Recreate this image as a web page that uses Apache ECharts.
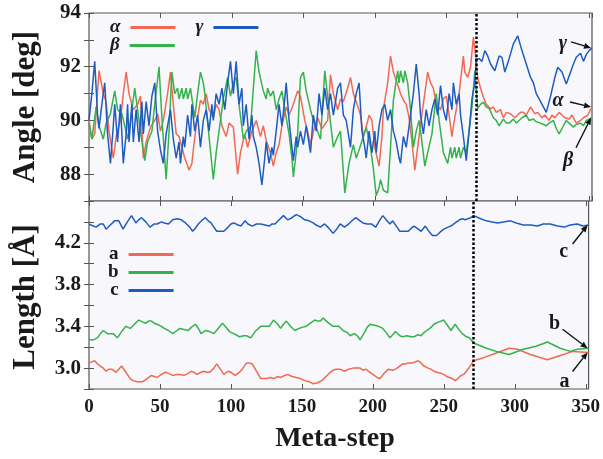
<!DOCTYPE html>
<html><head><meta charset="utf-8">
<script src="https://cdn.jsdelivr.net/npm/echarts@6/dist/echarts.min.js"></script>
<style>html,body{margin:0;padding:0;background:#fff}#c{width:603px;height:459px}</style>
</head><body><div id="c"></div>
<script>
// ---------- data ----------
const xMax = 352;
const switchStep = 271;
const xTicks = [0, 50, 100, 150, 200, 250, 300, 350];
const angleTicks = [88, 90, 92, 94];
const lengthTicks = [3.0, 3.4, 3.8, 4.2];

const alphaX = [0,2,4,7,10,12,14,17,19,22,24,26,28,31,34,36,38,40,43,46,48,50,52,55,57,59,61,63,65,67,70,72,73,75,78,80,82,84,87,89,91,93,96,98,101,104,106,109,111,114,117,120,122,124,127,129,131,133,135,138,140,143,146,148,151,153,155,158,160,163,167,169,171,174,176,178,181,183,185,187,190,192,194,196,198,200,203,205,206,209,211,213,215,218,220,222,224,226,228,230,233,235,237,239,241,243,246,248,250,252,254,255,257,259,262,263,265,267,269,271,272,274,276,278,281,283,285,288,290,292,295,298,300,302,304,306,309,312,314,317,319,322,324,326,329,331,333,336,338,341,344,346,349,352];
const alphaY = [90.0,89.3,89.5,91.85,91.0,90.7,89.6,88.6,89.4,90.0,91.0,91.8,91.0,90.4,90.6,90.9,88.6,89.2,89.75,90.0,90.25,89.6,90.0,91.0,91.8,90.6,89.5,89.4,89.0,88.6,88.15,88.4,88.9,89.8,90.75,90.6,91.0,90.4,90.1,90.6,90.4,89.8,89.4,89.9,89.75,88.0,88.8,89.5,89.0,89.6,90.0,89.4,89.8,89.25,88.8,88.3,88.8,89.1,89.8,90.5,90.2,90.6,91.1,90.9,90.0,89.6,89.1,89.8,90.1,89.7,90.0,91.7,91.0,90.4,90.8,90.7,91.2,91.6,91.0,90.7,90.2,89.4,89.75,90.2,90.0,89.0,88.3,89.4,90.4,91.4,92.4,91.8,91.5,91.0,90.75,90.6,90.1,89.2,88.15,89.0,90.25,91.0,91.8,91.4,91.2,90.6,90.4,90.8,90.9,90.2,89.4,89.8,90.4,91.0,92.4,91.8,91.6,92.0,93.1,92.2,91.6,91.2,90.86,90.6,90.43,90.5,90.3,90.4,90.1,90.3,90.25,90.1,90.2,90.3,90.3,90.2,90.5,90.25,90.3,90.1,90.2,90.0,90.2,90.1,90.3,90.2,90.1,90.05,90.2,89.9,90.0,90.1,90.2,90.5];

const betaX = [0,2,5,7,10,12,15,18,20,23,25,27,29,32,34,36,39,41,44,46,49,51,54,56,58,60,62,63,65,66,68,69,71,74,76,78,80,81,84,87,89,92,94,97,99,101,103,105,108,110,113,115,117,119,122,124,125,127,129,131,133,135,137,140,142,143,145,146,148,150,152,155,157,160,162,165,168,171,174,176,179,182,185,187,189,192,194,197,199,201,203,204,206,209,211,213,216,217,218,220,221,223,225,227,229,231,233,235,237,240,243,245,248,251,253,254,256,257,259,260,262,264,266,268,270,272,274,276,278,280,283,285,287,290,292,294,297,299,301,303,306,308,311,313,316,318,320,322,325,327,329,331,334,336,339,341,344,346,348,350,352];
const betaY = [89.9,89.3,90.5,89.8,89.3,89.9,90.25,91.1,90.4,90.25,89.8,89.3,90.0,91.2,90.4,89.6,88.5,89.2,89.6,90.6,92.0,90.1,87.8,89.6,91.8,91.0,91.2,90.8,91.2,90.8,91.2,90.8,91.2,90.1,91.0,91.8,91.4,91.0,89.4,87.8,88.8,90.0,90.8,91.6,90.9,91.4,91.6,90.6,89.3,89.6,89.75,91.2,92.6,91.8,91.1,90.8,91.2,90.9,91.1,90.4,90.8,91.1,90.4,89.5,88.6,87.9,88.8,89.5,91.6,91.8,91.1,90.4,90.0,89.6,89.3,91.85,90.4,89.0,89.4,89.6,87.3,88.4,89.1,88.6,88.9,89.4,89.75,89.0,88.2,87.2,87.5,87.8,87.4,87.3,89.0,90.75,91.85,91.4,91.85,91.4,91.85,91.4,90.4,89.0,89.6,90.0,89.2,88.3,88.8,89.5,91.0,90.0,88.8,88.4,89.0,88.6,89.0,88.6,89.0,88.6,89.0,88.8,89.6,90.5,91.85,90.45,90.6,90.68,90.5,90.45,90.1,90.0,89.8,90.05,89.9,89.9,90.05,89.9,90.0,90.1,90.2,90.0,90.05,89.95,89.9,89.85,89.8,89.9,90.0,89.7,89.5,89.7,90.0,89.9,89.75,89.85,89.9,89.8,90.0,90.05,90.1];

const gammaX = [0,2,4,6,7,9,11,13,15,17,18,20,22,24,26,27,28,30,31,33,35,37,38,40,42,44,46,48,50,52,54,57,59,61,63,64,66,67,69,71,72,74,76,78,80,82,84,86,87,89,91,93,95,97,99,101,103,105,107,108,110,112,114,115,117,119,121,123,124,126,128,129,131,133,135,137,138,140,142,143,145,146,148,150,152,155,157,159,161,163,165,167,169,171,174,176,178,180,183,185,187,189,191,193,194,196,198,200,201,203,205,207,209,211,213,215,217,218,220,222,225,227,229,231,232,234,236,238,240,242,244,246,248,250,252,254,255,257,259,260,262,264,266,268,270,271,273,275,277,279,281,284,287,289,291,294,297,300,303,306,309,311,313,316,320,323,326,328,331,334,337,339,341,344,346,348,350,352];
const gammaY = [90.0,91.0,92.2,90.2,89.7,90.6,91.4,89.5,88.4,89.8,90.6,89.2,90.6,88.4,89.5,90.6,89.2,90.6,89.2,90.4,89.2,90.7,89.5,90.7,89.8,90.9,91.4,89.6,88.9,88.4,89.5,90.4,89.3,88.6,89.2,88.4,89.4,89.0,90.2,89.4,90.6,89.6,90.2,89.0,90.0,90.4,89.6,90.6,90.0,91.0,90.6,91.2,90.4,91.4,92.2,91.0,92.2,90.6,91.2,89.8,90.6,89.3,90.2,89.4,89.0,88.4,87.6,88.6,89.2,88.4,89.0,88.7,89.6,90.6,89.8,90.8,91.4,90.0,89.0,88.5,89.4,89.0,89.6,89.1,89.8,88.8,90.2,89.6,91.0,90.2,91.2,90.4,91.0,90.2,91.2,91.4,90.2,90.0,89.0,90.4,91.0,91.4,89.6,89.0,88.6,89.6,88.8,89.6,88.8,89.8,90.4,90.6,90.0,90.4,89.6,89.2,88.6,88.4,89.4,89.0,90.2,91.0,92.1,91.0,90.2,89.5,90.4,89.8,90.4,90.8,90.2,91.3,90.4,90.0,91.0,90.4,91.4,90.6,91.0,90.2,89.4,88.5,89.6,90.8,91.4,92.3,92.3,92.2,92.6,92.4,92.1,91.85,92.4,92.35,91.8,92.3,92.85,93.15,92.6,92.1,91.6,91.4,91.0,90.7,90.3,90.9,91.6,91.98,91.8,91.36,91.8,92.1,92.35,92.5,92.2,92.45,92.6,92.7];

const aX = [0,2,4,6,8,10,12,14,16,19,21,23,26,29,31,34,36,38,41,44,46,48,51,54,56,59,62,64,67,70,72,74,76,79,81,83,85,88,90,93,95,98,100,103,106,108,111,113,115,118,121,125,128,130,133,135,138,140,143,146,149,152,155,158,161,164,167,170,172,174,177,180,183,186,189,191,193,195,198,201,203,205,208,211,214,216,219,221,223,225,228,232,234,236,239,241,243,245,248,250,252,254,256,258,260,262,264,266,268,271,278,288,296,302,311,323,332,341,352];
const aY = [3.05,3.06,3.07,3.04,3.02,3.00,2.97,2.99,2.99,2.96,2.99,3.02,2.96,2.90,2.88,2.87,2.87,2.87,2.90,2.93,2.92,2.91,2.94,2.96,2.95,2.93,2.94,2.94,2.93,2.95,2.97,2.96,2.94,2.96,2.97,2.96,2.96,3.00,3.04,2.98,2.94,2.97,2.96,2.93,2.96,2.99,3.05,3.05,3.04,2.97,2.90,2.90,2.91,2.90,2.92,2.91,2.93,2.94,2.92,2.91,2.90,2.88,2.87,2.85,2.86,2.88,2.92,2.96,2.98,2.99,2.99,2.97,2.99,3.00,3.00,3.00,2.98,2.99,2.96,2.93,2.91,2.90,2.95,2.99,2.98,2.99,3.02,3.04,3.04,3.05,3.05,3.07,3.05,3.02,3.00,2.99,2.97,2.96,2.95,2.94,2.92,2.91,2.90,2.88,2.90,2.93,2.94,2.97,3.01,3.07,3.10,3.15,3.19,3.18,3.13,3.08,3.12,3.16,3.15];

const bX = [0,3,6,8,10,13,17,20,23,26,29,32,35,38,40,42,44,46,48,51,53,56,59,62,64,67,70,72,75,77,79,82,85,88,91,94,96,99,102,106,109,111,114,117,121,124,127,130,133,135,137,139,142,145,148,150,153,156,159,161,163,165,168,172,176,179,182,184,187,189,191,194,196,198,201,204,207,210,212,214,216,219,221,224,227,229,232,234,236,238,241,243,246,248,250,252,255,258,260,263,266,268,271,280,287,296,306,315,323,332,339,344,352];
const bY = [3.275,3.27,3.29,3.33,3.36,3.33,3.33,3.29,3.35,3.40,3.38,3.42,3.46,3.44,3.43,3.45,3.45,3.43,3.42,3.40,3.38,3.36,3.33,3.36,3.38,3.37,3.36,3.39,3.42,3.38,3.33,3.36,3.35,3.33,3.38,3.43,3.40,3.35,3.33,3.30,3.31,3.31,3.29,3.35,3.40,3.40,3.40,3.46,3.42,3.38,3.42,3.45,3.40,3.36,3.38,3.39,3.40,3.43,3.46,3.45,3.45,3.48,3.44,3.40,3.40,3.36,3.34,3.31,3.33,3.31,3.27,3.34,3.39,3.42,3.41,3.40,3.38,3.33,3.29,3.32,3.35,3.31,3.30,3.31,3.30,3.30,3.32,3.31,3.34,3.36,3.39,3.42,3.44,3.45,3.46,3.42,3.36,3.42,3.38,3.33,3.30,3.29,3.24,3.19,3.16,3.13,3.18,3.21,3.25,3.19,3.16,3.18,3.19];

const cX = [0,3,5,8,10,12,15,18,21,24,27,30,33,35,37,40,43,46,48,51,53,56,59,62,65,68,71,73,75,77,80,82,84,86,88,90,93,95,98,100,102,105,107,110,112,115,118,121,124,127,129,131,134,137,140,143,146,149,152,155,158,160,163,166,169,172,175,177,180,183,186,188,191,193,196,199,202,205,207,210,212,214,217,219,222,225,227,229,232,234,237,240,242,245,248,250,253,255,258,261,263,265,267,269,271,276,280,284,288,292,297,301,306,311,316,320,325,330,335,339,344,348,352];
const cY = [4.38,4.36,4.35,4.38,4.38,4.33,4.37,4.41,4.41,4.33,4.40,4.46,4.39,4.42,4.44,4.40,4.35,4.38,4.38,4.40,4.39,4.38,4.42,4.43,4.42,4.39,4.35,4.31,4.34,4.38,4.42,4.44,4.41,4.39,4.35,4.31,4.31,4.31,4.35,4.38,4.39,4.37,4.36,4.41,4.38,4.36,4.38,4.38,4.37,4.36,4.38,4.38,4.42,4.46,4.42,4.44,4.47,4.45,4.42,4.41,4.39,4.37,4.35,4.38,4.34,4.29,4.34,4.38,4.35,4.38,4.42,4.44,4.41,4.39,4.38,4.38,4.35,4.42,4.46,4.41,4.38,4.41,4.35,4.31,4.31,4.31,4.34,4.36,4.33,4.31,4.36,4.30,4.27,4.27,4.31,4.33,4.35,4.36,4.39,4.42,4.43,4.42,4.43,4.44,4.46,4.43,4.41,4.40,4.39,4.40,4.41,4.39,4.37,4.37,4.36,4.38,4.38,4.36,4.35,4.37,4.38,4.36,4.37];

// ---------- style ----------
const RED = '#f06a52', GREEN = '#35b24c', BLUE = '#1f5cc0';
const SERIF = '"Liberation Serif", "DejaVu Serif", serif';
const pairs = (xs, ys) => xs.map((x, i) => [x, ys[i]]);

const chart = echarts.init(document.getElementById('c'), null, {renderer: 'canvas'});

const G0 = {left: 89, right: 11, top: 13, height: 188};
const G1 = {left: 89, right: 11, top: 201, height: 188};
const gridStyle = {show: true, backgroundColor: '#f8f8fc', borderColor: '#555', borderWidth: 1.2};

function xAx(grid, pos, labels) {
  return {
    type: 'value', gridIndex: grid, position: pos, min: 0, max: xMax, interval: 50,
    axisLine: {show: false}, splitLine: {show: false},
    axisTick: {show: true, inside: true, length: 5, lineStyle: {color: '#555', width: 1}},
    axisLabel: {
      show: labels, margin: 9, fontFamily: SERIF, fontWeight: 'bold', fontSize: 19, color: '#1a1a1a',
      formatter: v => xTicks.includes(v) ? String(v) : ''
    }
  };
}
function yAx(grid, pos, min, max, interval, labelList, digits) {
  return {
    type: 'value', gridIndex: grid, position: pos, min: min, max: max, interval: interval,
    axisLine: {show: false}, splitLine: {show: false},
    axisTick: {show: true, inside: true, length: 5, lineStyle: {color: '#555', width: 1}},
    axisLabel: {
      show: pos === 'left', margin: 8, fontFamily: SERIF, fontWeight: 'bold', fontSize: 21, color: '#1a1a1a',
      formatter: v => {
        const hit = labelList.find(t => Math.abs(t - v) < 1e-6);
        return hit === undefined ? '' : hit.toFixed(digits);
      }
    }
  };
}

const dotted = {
  silent: true, symbol: ['none', 'none'], animation: false,
  label: {show: false},
  lineStyle: {color: '#000', type: [2.5, 2], width: 2.5},
  data: [{xAxis: switchStep}]
};

function lineSeries(name, color, xs, ys, xi, yi, extra) {
  return Object.assign({
    name: name, type: 'line', xAxisIndex: xi, yAxisIndex: yi,
    data: pairs(xs, ys), showSymbol: false, symbol: 'none',
    lineStyle: {color: color, width: 1.5}, itemStyle: {color: color},
    animation: false
  }, extra || {});
}

const legendText = (italic) => ({
  fontFamily: SERIF, fontWeight: 'bold', fontStyle: italic ? 'italic' : 'normal',
  fontSize: 19, color: '#1a1a1a', lineHeight: 18, padding: [0, 5, 0, 0]
});

chart.setOption({
  backgroundColor: '#fff',
  animation: false,
  grid: [Object.assign({}, G0, gridStyle), Object.assign({}, G1, gridStyle)],
  xAxis: [xAx(0, 'bottom', false), xAx(0, 'top', false), xAx(1, 'bottom', true), xAx(1, 'top', false)],
  yAxis: [
    yAx(0, 'left', 87, 94, 1, angleTicks, 0), yAx(0, 'right', 87, 94, 1, angleTicks, 0),
    yAx(1, 'left', 2.8, 4.6, 0.2, lengthTicks, 1), yAx(1, 'right', 2.8, 4.6, 0.2, lengthTicks, 1)
  ],
  legend: [
    {data: ['α', 'γ'], left: 105, top: 13, orient: 'horizontal', align: 'right', icon: 'rect',
     itemWidth: 45, itemHeight: 3, itemGap: 20, textStyle: legendText(true), selectedMode: false},
    {data: ['β'], left: 105, top: 31, orient: 'horizontal', align: 'right', icon: 'rect',
     itemWidth: 45, itemHeight: 3, textStyle: legendText(true), selectedMode: false},
    {data: ['a', 'b', 'c'], left: 103, top: 240, orient: 'vertical', align: 'right', icon: 'rect',
     itemWidth: 45, itemHeight: 3, itemGap: -1, textStyle: legendText(false), selectedMode: false}
  ],
  series: [
    lineSeries('α', RED, alphaX, alphaY, 0, 0),
    lineSeries('β', GREEN, betaX, betaY, 0, 0),
    lineSeries('γ', BLUE, gammaX, gammaY, 0, 0, {markLine: dotted}),
    lineSeries('a', RED, aX, aY, 2, 2),
    lineSeries('b', GREEN, bX, bY, 2, 2),
    lineSeries('c', BLUE, cX, cY, 2, 2, {markLine: dotted})
  ]
});

// ---------- annotations (arrows pointing at the final values) ----------
function lastOf(arr) { return arr[arr.length - 1]; }
const finTop = {xAxisIndex: 0, yAxisIndex: 0}, finBot = {xAxisIndex: 2, yAxisIndex: 2};
const notes = [
  {t: 'γ', it: true, fin: finTop, x: lastOf(gammaX), y: lastOf(gammaY), tx: -28, ty: -4, sx: -20, sy: -6},
  {t: 'α', it: true, fin: finTop, x: lastOf(alphaX), y: lastOf(alphaY), tx: -33, ty: -6, sx: -21, sy: -5},
  {t: 'β', it: true, fin: finTop, x: lastOf(betaX), y: lastOf(betaY), tx: -23, ty: 43, sx: -15, sy: 30},
  {t: 'c', it: false, fin: finBot, x: lastOf(cX), y: lastOf(cY), tx: -24, ty: 27, sx: -15, sy: 19},
  {t: 'b', it: false, fin: finBot, x: lastOf(bX), y: lastOf(bY), tx: -33, ty: -24, sx: -25, sy: -19},
  {t: 'a', it: false, fin: finBot, x: lastOf(aX), y: lastOf(aY), tx: -23, ty: 29, sx: -15, sy: 19}
];
const gfx = [];
notes.forEach(n => {
  const p = chart.convertToPixel(n.fin, [n.x, n.y]);
  const tip = [p[0] - 1, p[1]];
  const s = [tip[0] + n.sx, tip[1] + n.sy];
  const ang = Math.atan2(tip[1] - s[1], tip[0] - s[0]);
  const L = 7, W = 3;
  const bx = tip[0] - L * Math.cos(ang), by = tip[1] - L * Math.sin(ang);
  const nx = -Math.sin(ang) * W, ny = Math.cos(ang) * W;
  gfx.push({type: 'line', silent: true, z: 100,
    shape: {x1: s[0], y1: s[1], x2: bx, y2: by}, style: {stroke: '#111', lineWidth: 1.4}});
  gfx.push({type: 'polygon', silent: true, z: 100,
    shape: {points: [[tip[0], tip[1]], [bx + nx, by + ny], [bx - nx, by - ny]]}, style: {fill: '#111'}});
  gfx.push({type: 'text', silent: true, z: 100, x: tip[0] + n.tx, y: tip[1] + n.ty,
    style: {text: n.t, fill: '#1a1a1a', align: 'center', verticalAlign: 'middle',
      font: (n.it ? 'italic ' : '') + 'bold 20px ' + SERIF}});
});
// axis titles
gfx.push({type: 'text', silent: true, x: 26, y: 107, rotation: Math.PI / 2,
  style: {text: 'Angle [deg]', fill: '#1a1a1a', align: 'center', verticalAlign: 'middle', font: 'bold 31px ' + SERIF}});
gfx.push({type: 'text', silent: true, x: 26, y: 297, rotation: Math.PI / 2,
  style: {text: 'Length [Å]', fill: '#1a1a1a', align: 'center', verticalAlign: 'middle', font: 'bold 31px ' + SERIF}});
gfx.push({type: 'text', silent: true, x: 335, y: 439,
  style: {text: 'Meta-step', fill: '#1a1a1a', align: 'center', verticalAlign: 'middle', font: 'bold 28px ' + SERIF}});
chart.setOption({graphic: gfx});
</script>
</body></html>
